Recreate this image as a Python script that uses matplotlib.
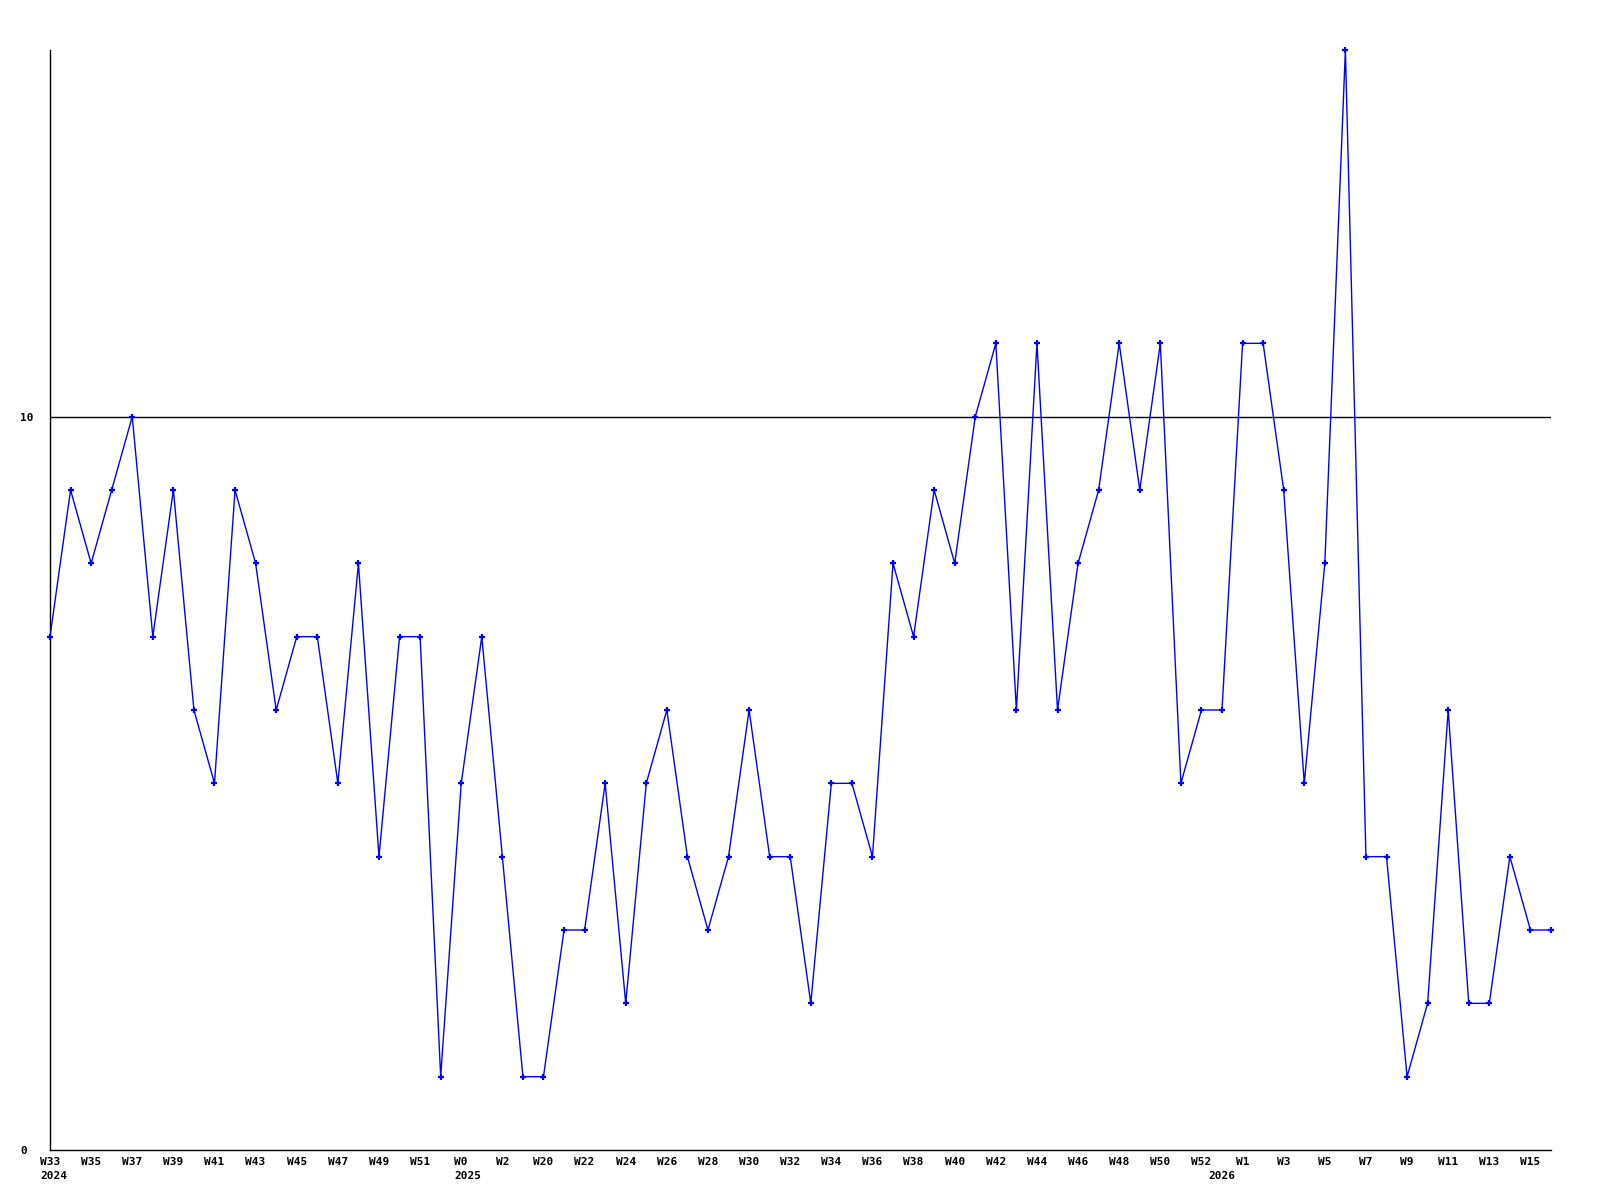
import matplotlib
matplotlib.use("Agg")
import matplotlib.pyplot as plt

weeks = (
    [f"W{w}" for w in range(33, 53)]
    + ["W0", "W1", "W2", "W3"]
    + [f"W{w}" for w in range(20, 53)]
    + [f"W{w}" for w in range(0, 17)]
)
values = [
    7, 9, 8, 9, 10, 7, 9, 6, 5, 9, 8, 6, 7, 7, 5, 8, 4, 7, 7, 1,
    5, 7, 4, 1,
    1, 3, 3, 5, 2, 5, 6, 4, 3, 4, 6, 4, 4, 2, 5, 5, 4, 8, 7, 9, 8, 10,
    11, 6, 11, 6, 8, 9, 11, 9, 11, 5, 6,
    6, 11, 11, 9, 5, 8, 15, 4, 4, 1, 2, 6, 2, 2, 4, 3, 3,
]
year_starts = {0: "2024", 20: "2025", 57: "2026"}
threshold = 10
yticks = [0, 10]

FONT = dict(family="DejaVu Sans Mono", weight="bold", size=8)

fig = plt.figure(figsize=(16, 12), dpi=100)
ax = fig.add_axes([50 / 1600, 50 / 1200, (1551 - 50) / 1600, (1150 - 50) / 1200])

x = list(range(len(values)))
ax.axhline(threshold, color="black", lw=1.0, zorder=1)
ax.plot(x, values, color="#0000ff", lw=1.0, marker="+", markersize=3.8,
        markeredgewidth=1.6, zorder=3, clip_on=False)

ax.set_xlim(0, len(values) - 1)
ax.set_ylim(0, 15)

for s in ["top", "right"]:
    ax.spines[s].set_visible(False)
for s in ["left", "bottom"]:
    ax.spines[s].set_color("black")
    ax.spines[s].set_linewidth(1.0)

ax.set_yticks(yticks)
ax.set_yticklabels([str(t) for t in yticks], fontdict=FONT)
ax.tick_params(axis="y", length=0, pad=21.6)
for lab in ax.get_yticklabels():
    lab.set_horizontalalignment("left")

ticks = x[::2]
ax.set_xticks(ticks)
ax.set_xticklabels([weeks[i] for i in ticks], fontdict=FONT)
ax.tick_params(axis="x", length=0, pad=5)

charw = 0.602 * 8 * 100 / 72
for i, yr in year_starts.items():
    if i % 2 == 0:
        dx = -len(weeks[i]) * charw / 2
        ha = "left"
    else:
        dx = 0
        ha = "center"
    ax.annotate(yr, xy=(i, 0), xycoords=("data", "axes fraction"),
                xytext=(dx, -21), textcoords="offset pixels",
                ha=ha, va="top", **FONT)

fig.savefig("out.png", dpi=100)
